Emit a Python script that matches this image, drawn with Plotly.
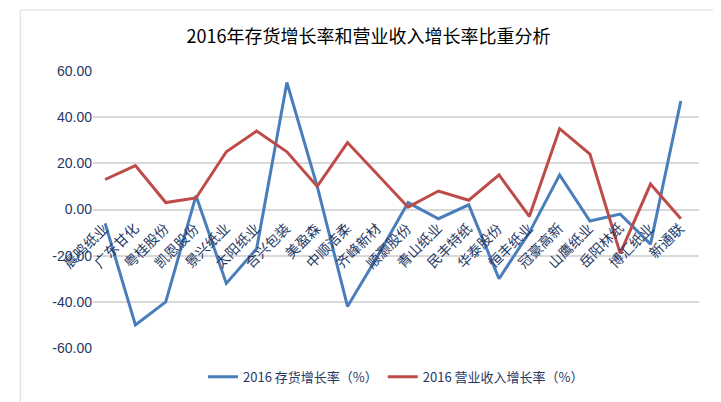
import plotly.graph_objects as go

categories = ["晨鸣纸业","广东甘化","粤桂股份","凯恩股份","景兴纸业","太阳纸业","合兴包装","美盈森","中顺洁柔","齐峰新材",
              "顺灏股份","青山纸业","民丰特纸","华泰股份","恒丰纸业","冠豪高新","山鹰纸业","岳阳林纸","博汇纸业","新通联"]
inventory_growth = [-6, -50, -40, 6, -32, -17, 55, 10, -42, -20, 3, -4, 2, -30, -10, 15, -5, -2, -15, 47]
revenue_growth = [13, 19, 3, 5, 25, 34, 25, 10, 29, 15, 1, 8, 4, 15, -3, 35, 24, -19, 11, -4]
yticks = [-60, -40, -20, 0, 20, 40, 60]

fig = go.Figure()
fig.add_trace(go.Scatter(x=categories, y=inventory_growth, mode="lines", name="2016 存货增长率（%）",
                         line=dict(color="#4a7ebb", width=3)))
fig.add_trace(go.Scatter(x=categories, y=revenue_growth, mode="lines", name="2016 营业收入增长率（%）",
                         line=dict(color="#be4b48", width=3)))
for c in categories:
    fig.add_annotation(x=c, y=0, text=c, showarrow=False, textangle=-45, xanchor="right", yanchor="top",
                       xshift=10, yshift=-6, font=dict(size=14, color="#1f3864", family="Noto Sans CJK SC"))
fig.update_layout(
    width=721, height=402, paper_bgcolor="white", plot_bgcolor="white",
    margin=dict(l=85, r=30, t=63, b=62),
    title=dict(text="2016年存货增长率和营业收入增长率比重分析", x=0.5, xanchor="center", y=0.945,
               font=dict(size=18, color="#000", family="Noto Sans CJK SC")),
    xaxis=dict(showticklabels=False, showgrid=False, zeroline=False, range=[-0.4, 19.6]),
    yaxis=dict(range=[-60, 60], tickvals=yticks, ticktext=[f"{v:.2f}" for v in yticks],
               showgrid=True, gridcolor="#d9d9d9", gridwidth=1.5, zeroline=False,
               tickfont=dict(size=14, color="#1f3864", family="Liberation Sans")),
    legend=dict(orientation="h", x=0.5, xanchor="center", y=-0.05, yanchor="top",
                font=dict(size=13, color="#1f3864", family="Noto Sans CJK SC")),
    showlegend=True,
)
fig.add_shape(type="rect", xref="paper", yref="paper", x0=-0.12, x1=1.045, y0=-0.21, y1=1.22,
              line=dict(color="#d9d9d9", width=1))
fig.write_html("out.html")
